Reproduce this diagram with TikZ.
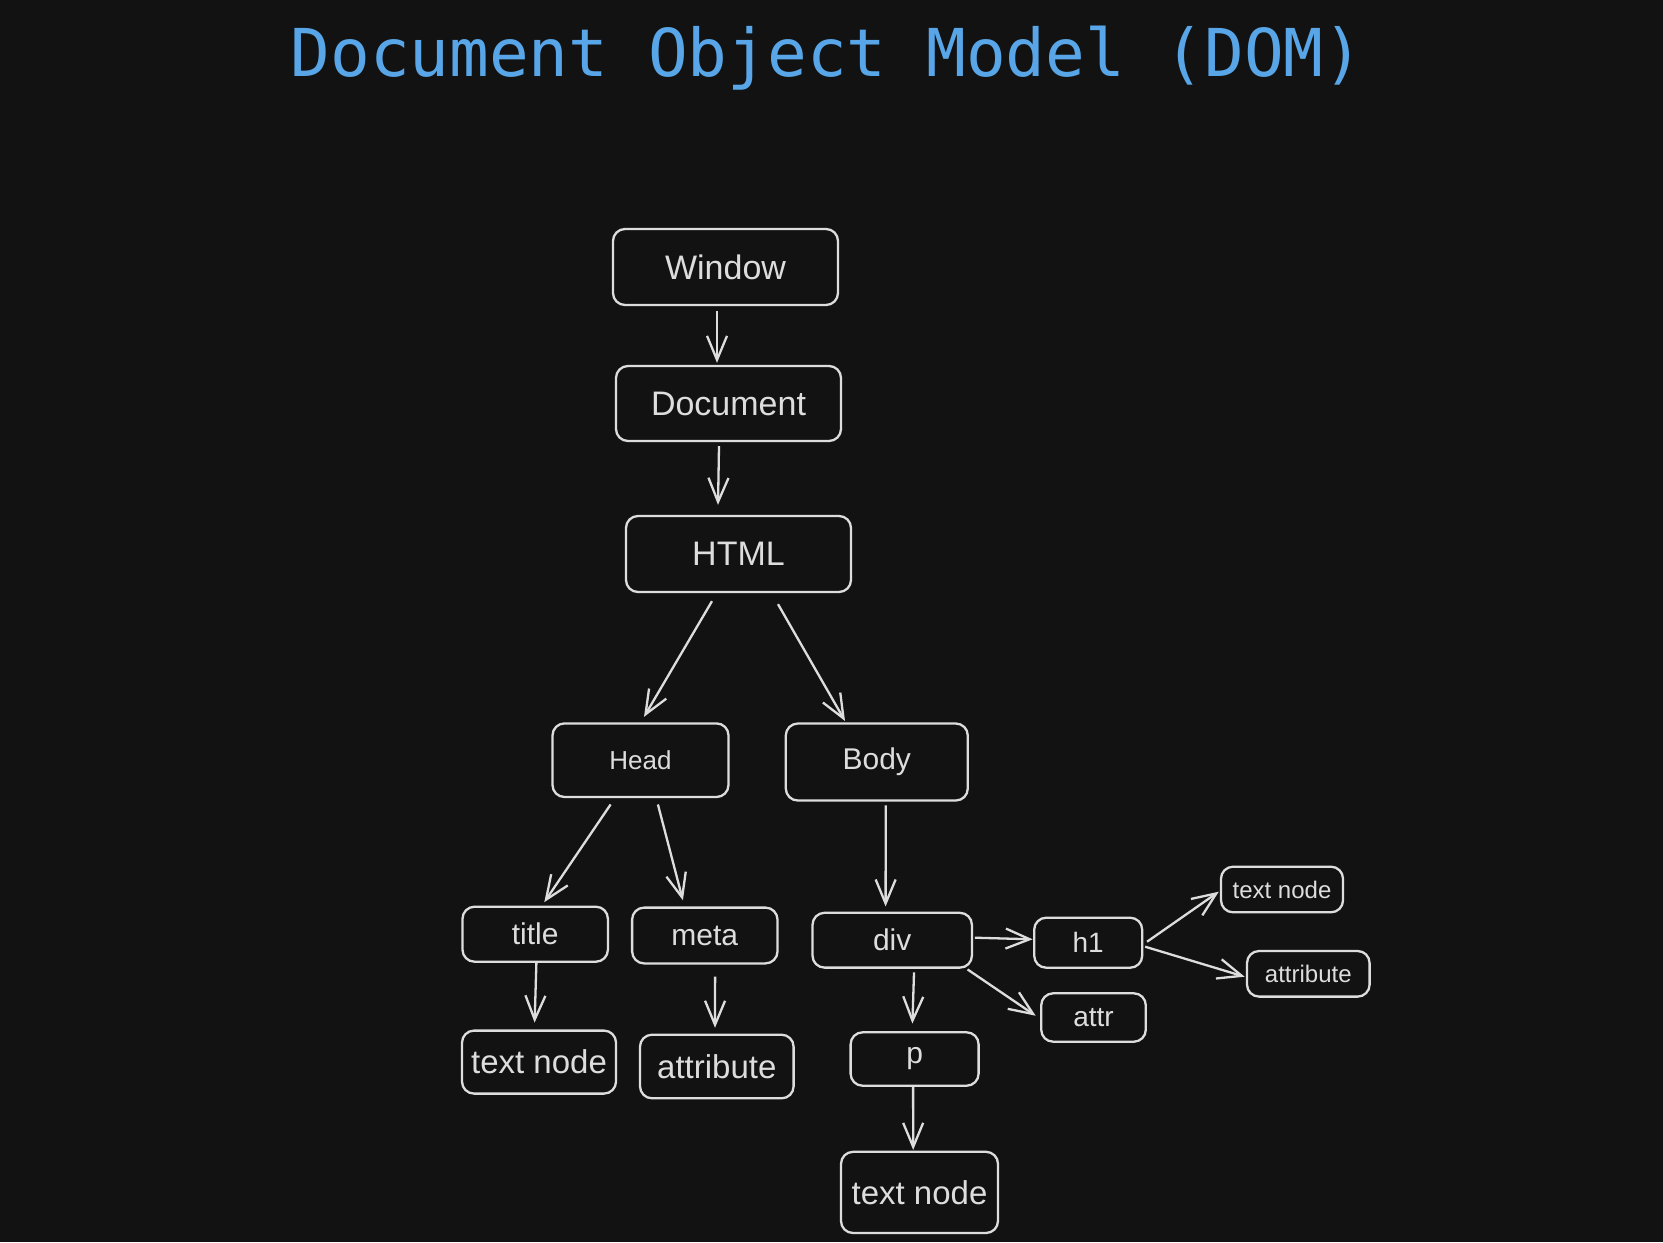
\documentclass[tikz,border=0pt]{standalone}
\usepackage{fontspec}
\setmainfont{Liberation Sans}
\newfontfamily\titlefont{DejaVu Sans Mono}
\usetikzlibrary{arrows.meta,calc}
\definecolor{bg}{HTML}{121212}
\definecolor{ink}{HTML}{DDDDDD}
\definecolor{ttl}{HTML}{58A6E8}
\newcommand{\fs}[1]{\fontsize{#1}{#1}\selectfont}
\begin{document}
\begin{tikzpicture}[x=0.5pt,y=-0.5pt,
  box/.style={draw=ink, line width=1.15pt, rounded corners=6pt, text=ink, inner sep=0pt, fill=bg},
  arr/.style={draw=ink, line width=1.15pt, -{Straight Barb[length=12pt,width=10pt]}}]
\fill[bg] (0,0) rectangle (1663,1242);
\useasboundingbox (0,0) rectangle (1663,1242);

\node[text=ttl, font=\titlefont\fs{33}, anchor=base] (ttl) at (827,76) {Document Object Model (DOM)};

\node[box, minimum width=112.5pt, minimum height=38pt, font=\fs{17}] (win) at (725.5,267) {Window};
\node[box, minimum width=112.5pt, minimum height=37.5pt, font=\fs{17}] (doc) at (728.5,403.5) {Document};
\node[box, minimum width=112.5pt, minimum height=38pt, font=\fs{17}] (html) at (738.5,554) {HTML};
\node[box, minimum width=88pt, minimum height=36.8pt, font=\fs{13}] (head) at (640.5,760.2) {Head};
\node[box, minimum width=91pt, minimum height=38.5pt, font=\fs{15}] (body) at (876.8,762) {Body};
\node[box, minimum width=72.7pt, minimum height=27.5pt, font=\fs{15}] (title) at (535.2,934.2) {title};
\node[box, minimum width=72.7pt, minimum height=27.9pt, font=\fs{15}] (meta) at (704.8,935.5) {meta};
\node[box, minimum width=79.7pt, minimum height=27.4pt, font=\fs{15}] (div) at (892.2,940.2) {div};
\node[box, minimum width=77pt, minimum height=31.5pt, font=\fs{16.5}] (textL) at (539,1062.1) {text node};
\node[box, minimum width=76.8pt, minimum height=31.8pt, font=\fs{16.5}] (attrL) at (716.8,1066.5) {attribute};
\node[box, minimum width=64pt, minimum height=26.7pt, font=\fs{15}] (p) at (914.6,1059) {p};
\node[box, minimum width=78.5pt, minimum height=40.6pt, font=\fs{16.5}] (textB) at (919.5,1192.4) {text node};
\node[box, minimum width=54pt, minimum height=25pt, font=\fs{14}] (h1) at (1088.2,942.7) {h1};
\node[box, minimum width=52.3pt, minimum height=24.2pt, font=\fs{14}] (attr) at (1093.5,1017.5) {attr};
\node[box, minimum width=61pt, minimum height=22.8pt, font=\fs{12}] (textR) at (1282,889.5) {text node};
\node[box, minimum width=61.3pt, minimum height=22.8pt, font=\fs{12}] (attrR) at (1308.3,973.8) {attribute};

\draw[arr] ($(win.south)+(-8.5,5)$) -- ($(doc.north)+(-11.5,-2)$);
\draw[arr] ($(doc.south)+(-9.5,4)$) -- ($(html.north)+(-20.5,-10)$);
\draw[arr] ($(html.south)+(-26.5,8)$) -- ($(head.north)+(3.5,-5.4)$);
\draw[arr] ($(html.south)+(39.5,11)$) -- ($(body.north)+(-31.8,-1.4)$);
\draw[arr] ($(head.south)+(-29.9,6.3)$) -- ($(title.north)+(9.1,-3.4)$);
\draw[arr] ($(head.south)+(17.4,6.3)$) -- ($(meta.north)+(-21.9,-6.2)$);
\draw[arr] ($(body.south)+(8.9,3.7)$) -- ($(div.north)+(-6.6,-5.2)$);
\draw[arr] ($(title.south)+(1.2,0)$) -- ($(textL.north)+(-4.4,-6.9)$);
\draw[arr] ($(meta.south)+(10.3,12.1)$) -- ($(attrL.north)+(-1.8,-5.8)$);
\draw[arr] ($(div.south)+(21.8,3.7)$) -- ($(p.north)+(-2.2,-7.6)$);
\draw[arr] ($(p.south)+(-1.5,0)$) -- ($(textB.north)+(-6.3,-0.8)$);
\draw[arr] ($(div.east)+(1.9,-2.5)$) -- ($(h1.west)+(-0.4,-3.4)$);
\draw[arr] ($(div.south east)+(-5.5,0.7)$) -- ($(attr.west)+(-4.4,-1.8)$);
\draw[arr] ($(h1.east)+(3.7,-1)$) -- ($(textR.west)+(-1.1,2.2)$);
\draw[arr] ($(h1.east)+(1.8,4)$) -- ($(attrR.west)+(-1.2,2.9)$);
\end{tikzpicture}
\end{document}
